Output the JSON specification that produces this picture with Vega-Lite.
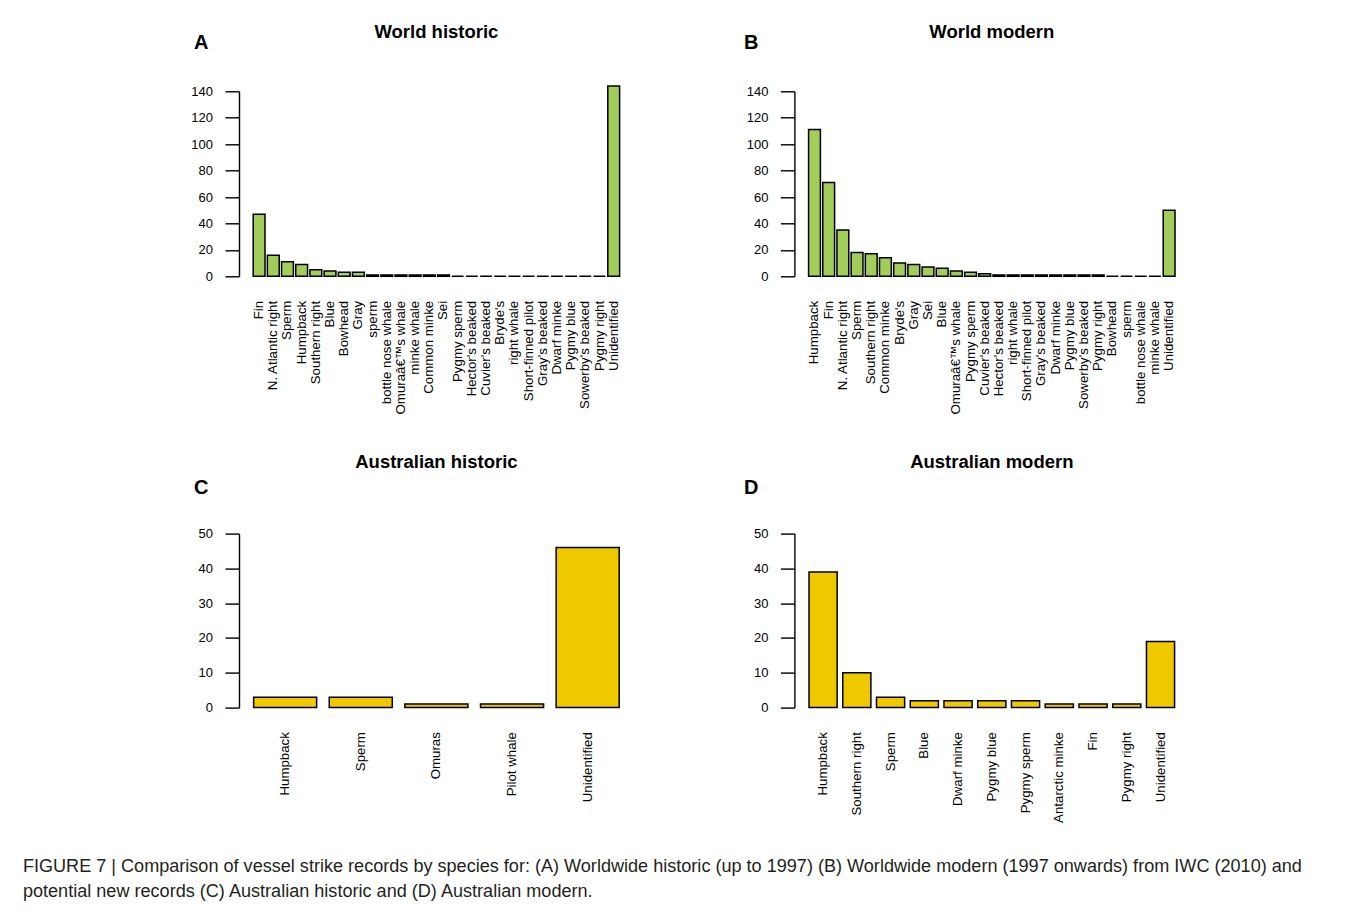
{
  "$schema": "https://vega.github.io/schema/vega-lite/v6.json",
  "background": "white",
  "padding": {"left": 22, "top": 22.3, "right": 5, "bottom": 5},
  "bounds": "flush",
  "spacing": 442.3,
  "title": {
    "text": [
      "FIGURE 7 | Comparison of vessel strike records by species for: (A) Worldwide historic (up to 1997) (B) Worldwide modern (1997 onwards) from IWC (2010) and",
      "potential new records (C) Australian historic and (D) Australian modern."
    ],
    "orient": "bottom",
    "anchor": "start",
    "frame": "group",
    "dx": -216.1,
    "offset": 50,
    "fontSize": 18.1,
    "fontWeight": "normal",
    "color": "#231f20",
    "lineHeight": 25,
    "baseline": "alphabetic"
  },
  "datasets": {
    "worldHistoric": [
      {"species": "Fin", "strikes": 47},
      {"species": "N. Atlantic right", "strikes": 16},
      {"species": "Sperm", "strikes": 11},
      {"species": "Humpback", "strikes": 9},
      {"species": "Southern right", "strikes": 5},
      {"species": "Blue", "strikes": 4},
      {"species": "Bowhead", "strikes": 3},
      {"species": "Gray", "strikes": 3},
      {"species": "sperm", "strikes": 1},
      {"species": "bottle nose whale", "strikes": 1},
      {"species": "Omuraâ€™s whale", "strikes": 1},
      {"species": "minke whale", "strikes": 1},
      {"species": "Common minke", "strikes": 1},
      {"species": "Sei", "strikes": 1},
      {"species": "Pygmy sperm", "strikes": 0},
      {"species": "Hector's beaked", "strikes": 0},
      {"species": "Cuvier's beaked", "strikes": 0},
      {"species": "Bryde's", "strikes": 0},
      {"species": "right whale", "strikes": 0},
      {"species": "Short-finned pilot", "strikes": 0},
      {"species": "Gray's beaked", "strikes": 0},
      {"species": "Dwarf minke", "strikes": 0},
      {"species": "Pygmy blue", "strikes": 0},
      {"species": "Sowerby's beaked", "strikes": 0},
      {"species": "Pygmy right", "strikes": 0},
      {"species": "Unidentified", "strikes": 144}
    ],
    "worldModern": [
      {"species": "Humpback", "strikes": 111},
      {"species": "Fin", "strikes": 71},
      {"species": "N. Atlantic right", "strikes": 35},
      {"species": "Sperm", "strikes": 18},
      {"species": "Southern right", "strikes": 17},
      {"species": "Common minke", "strikes": 14},
      {"species": "Bryde's", "strikes": 10},
      {"species": "Gray", "strikes": 9},
      {"species": "Sei", "strikes": 7},
      {"species": "Blue", "strikes": 6},
      {"species": "Omuraâ€™s whale", "strikes": 4},
      {"species": "Pygmy sperm", "strikes": 3},
      {"species": "Cuvier's beaked", "strikes": 2},
      {"species": "Hector's beaked", "strikes": 1},
      {"species": "right whale", "strikes": 1},
      {"species": "Short-finned pilot", "strikes": 1},
      {"species": "Gray's beaked", "strikes": 1},
      {"species": "Dwarf minke", "strikes": 1},
      {"species": "Pygmy blue", "strikes": 1},
      {"species": "Sowerby's beaked", "strikes": 1},
      {"species": "Pygmy right", "strikes": 1},
      {"species": "Bowhead", "strikes": 0},
      {"species": "sperm", "strikes": 0},
      {"species": "bottle nose whale", "strikes": 0},
      {"species": "minke whale", "strikes": 0},
      {"species": "Unidentified", "strikes": 50}
    ],
    "ausHistoric": [
      {"species": "Humpback", "strikes": 3},
      {"species": "Sperm", "strikes": 3},
      {"species": "Omuras", "strikes": 1},
      {"species": "Pilot whale", "strikes": 1},
      {"species": "Unidentified", "strikes": 46}
    ],
    "ausModern": [
      {"species": "Humpback", "strikes": 39},
      {"species": "Southern right", "strikes": 10},
      {"species": "Sperm", "strikes": 3},
      {"species": "Blue", "strikes": 2},
      {"species": "Dwarf minke", "strikes": 2},
      {"species": "Pygmy blue", "strikes": 2},
      {"species": "Pygmy sperm", "strikes": 2},
      {"species": "Antarctic minke", "strikes": 1},
      {"species": "Fin", "strikes": 1},
      {"species": "Pygmy right", "strikes": 1},
      {"species": "Unidentified", "strikes": 19}
    ]
  },
  "vconcat": [
    {
      "bounds": "flush",
      "spacing": 160.4,
      "hconcat": [
        {
          "width": 394.8,
          "height": 185,
          "data": {"name": "worldHistoric"},
          "title": {"text": "World historic", "offset": -8.3},
          "mark": {"type": "bar", "fill": "#A2CD5A", "stroke": "#000000", "strokeWidth": 1.5},
          "encoding": {
            "x": {"field": "species", "type": "nominal", "sort": null,
                  "scale": {"paddingInner": 0.1667, "paddingOuter": 1.0333},
                  "axis": {"title": null}},
            "y": {"field": "strikes", "type": "quantitative",
                  "scale": {"domain": [0, 140], "nice": false},
                  "axis": {"values": [0, 20, 40, 60, 80, 100, 120, 140], "title": "A", "titleX": -45.5, "titleY": -42.5}}
          }
        },
        {
          "width": 394.8,
          "height": 185,
          "data": {"name": "worldModern"},
          "title": {"text": "World modern", "offset": -8.3},
          "mark": {"type": "bar", "fill": "#A2CD5A", "stroke": "#000000", "strokeWidth": 1.5},
          "encoding": {
            "x": {"field": "species", "type": "nominal", "sort": null,
                  "scale": {"paddingInner": 0.1667, "paddingOuter": 1.0333},
                  "axis": {"title": null}},
            "y": {"field": "strikes", "type": "quantitative",
                  "scale": {"domain": [0, 140], "nice": false},
                  "axis": {"values": [0, 20, 40, 60, 80, 100, 120, 140], "title": "B", "titleX": -51, "titleY": -42.5}}
          }
        }
      ]
    },
    {
      "bounds": "flush",
      "spacing": 160.4,
      "hconcat": [
        {
          "width": 394.8,
          "height": 174,
          "data": {"name": "ausHistoric"},
          "title": {"text": "Australian historic", "offset": 5.6},
          "mark": {"type": "bar", "fill": "#EEC900", "stroke": "#000000", "strokeWidth": 1.5},
          "encoding": {
            "x": {"field": "species", "type": "nominal", "sort": null,
                  "scale": {"paddingInner": 0.1667, "paddingOuter": 0.1933},
                  "axis": {"title": null}},
            "y": {"field": "strikes", "type": "quantitative",
                  "scale": {"domain": [0, 50], "nice": false},
                  "axis": {"values": [0, 10, 20, 30, 40, 50], "title": "C", "titleX": -45.5, "titleY": -40}}
          }
        },
        {
          "width": 394.8,
          "height": 174,
          "data": {"name": "ausModern"},
          "title": {"text": "Australian modern", "offset": 5.6},
          "mark": {"type": "bar", "fill": "#EEC900", "stroke": "#000000", "strokeWidth": 1.5},
          "encoding": {
            "x": {"field": "species", "type": "nominal", "sort": null,
                  "scale": {"paddingInner": 0.1667, "paddingOuter": 0.4333},
                  "axis": {"title": null}},
            "y": {"field": "strikes", "type": "quantitative",
                  "scale": {"domain": [0, 50], "nice": false},
                  "axis": {"values": [0, 10, 20, 30, 40, 50], "title": "D", "titleX": -51, "titleY": -40}}
          }
        }
      ]
    }
  ],
  "config": {
    "font": "Liberation Sans",
    "view": {"stroke": null},
    "title": {"fontSize": 18.5, "fontWeight": "bold", "color": "#000000", "anchor": "middle", "frame": "group", "baseline": "alphabetic"},
    "axis": {"grid": false, "labelColor": "#000000", "labelFontSize": 13.3, "labelFont": "Liberation Sans"},
    "axisX": {"labelAngle": -90, "domain": false, "ticks": false, "tickSize": 0, "labelPadding": 24, "labelOverlap": false, "labelLimit": 300},
    "axisY": {
      "domainColor": "#000000", "domainWidth": 1.4,
      "tickColor": "#000000", "tickWidth": 1.4, "tickSize": 14,
      "labelPadding": 12.5, "labelFontSize": 13, "labelFlush": false, "labelOverlap": false,
      "titleAngle": 0, "titleFontSize": 20, "titleFontWeight": "bold", "titleColor": "#000000",
      "titleAlign": "left", "titleBaseline": "alphabetic"
    }
  }
}
